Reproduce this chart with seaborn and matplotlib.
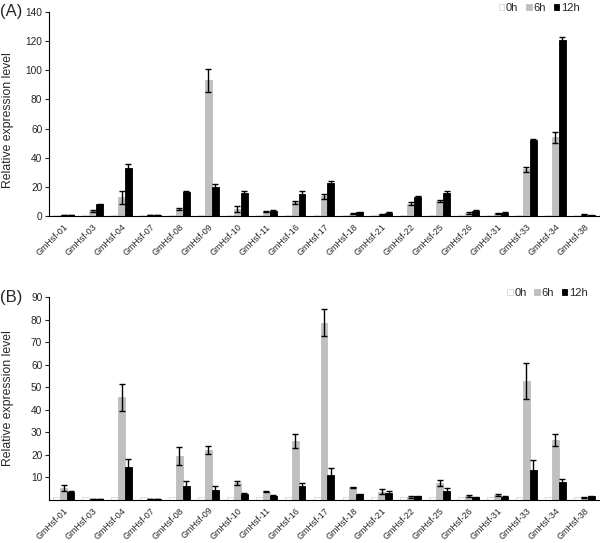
import pandas as pd
import numpy as np
import seaborn as sns
import matplotlib.pyplot as plt

# data
genes = ['GmHsf-01', 'GmHsf-03', 'GmHsf-04', 'GmHsf-07', 'GmHsf-08', 'GmHsf-09', 'GmHsf-10',
         'GmHsf-11', 'GmHsf-16', 'GmHsf-17', 'GmHsf-18', 'GmHsf-21', 'GmHsf-22', 'GmHsf-25',
         'GmHsf-26', 'GmHsf-31', 'GmHsf-33', 'GmHsf-34', 'GmHsf-38']
times = ['0h', '6h', '12h']

a_0h = [1] * 19
a_6h = [0.8, 3.5, 13, 0.8, 5, 93, 5, 3, 9.5, 13.5, 1.5, 1.2, 8.5, 10.5, 2, 1.8, 32, 54, 1.2]
a_12h = [0.9, 8, 33, 0.8, 16.5, 20, 16, 3.5, 15.5, 23, 2.5, 2, 13, 16, 3.5, 2.2, 52, 121, 0.5]
a_6h_err = [0.2, 0.5, 4.5, 0.2, 0.8, 8, 2, 0.5, 1, 2, 0.3, 0.3, 1, 0.5, 0.5, 0.3, 2, 4, 0.3]
a_12h_err = [0.2, 0.5, 2.5, 0.2, 0.5, 2, 1, 0.4, 1.5, 1, 0.3, 0.5, 0.5, 1, 0.4, 0.3, 1, 2, 0.2]

b_0h = [1] * 19
b_6h = [5.3, 0.3, 45.5, 0.2, 19.3, 22, 7.3, 3.5, 26, 78.5, 5.5, 3.5, 1.2, 7.5, 1.6, 2, 52.5, 26.5, 0.8]
b_12h = [3.4, 0.3, 14.4, 0.2, 6.2, 4.1, 2.3, 1.8, 6, 11, 2.3, 2.8, 1.5, 4, 1.1, 1.2, 13.2, 7.8, 1.4]
b_6h_err = [1.3, 0.1, 6, 0.1, 4, 1.8, 1, 0.3, 3, 6, 0.3, 1.2, 0.3, 1.3, 0.3, 0.4, 8, 2.5, 0.2]
b_12h_err = [0.5, 0.1, 3.5, 0.1, 2, 1.8, 0.8, 0.2, 1.3, 3.2, 0.2, 0.8, 0.3, 1, 0.2, 0.2, 4.3, 1.3, 0.2]

sns.set_style('white')
plt.rcParams['font.family'] = ['Liberation Sans', 'DejaVu Sans']

colors = ['white', '#bfbfbf', 'black']
edges = ['#d9d9d9', '#bfbfbf', 'black']


def panel(ax, v0, v6, v12, e6, e12, ymax, yticks, tag, leg_x, lab_y):
    df = pd.DataFrame({'gene': genes * 3,
                       'time': [t for t in times for _ in genes],
                       'value': v0 + v6 + v12})
    sns.barplot(data=df, x='gene', y='value', hue='time', order=genes, hue_order=times,
                palette=colors, errorbar=None, width=0.72, ax=ax, legend=False)
    errs = [[0] * 19, e6, e12]
    bar_conts = list(ax.containers)
    for i, cont in enumerate(bar_conts):
        xs, ys = [], []
        for p in cont.patches:
            p.set_edgecolor(edges[i])
            p.set_linewidth(0.6)
            xs.append(p.get_x() + p.get_width() / 2)
            ys.append(p.get_height())
        if i > 0:
            ax.errorbar(xs, ys, yerr=errs[i], fmt='none', ecolor='black',
                        elinewidth=1, capsize=2.5, capthick=1)
    ax.set_xlim(-0.5, len(genes) - 0.5)
    ax.set_ylim(0, ymax)
    ax.set_yticks(yticks)
    ax.set_xlabel('')
    ax.set_ylabel('Relative expression level', fontsize=8.8)
    ax.yaxis.set_label_coords(-0.064, lab_y)
    ax.tick_params(axis='y', labelsize=7.3, left=True, length=3, width=0.8, pad=2)
    ax.tick_params(axis='x', labelsize=6.4, bottom=False, pad=1)
    plt.setp(ax.get_xticklabels(), rotation=45, ha='right', rotation_mode='anchor')
    sns.despine(ax=ax)
    for s in ['left', 'bottom']:
        ax.spines[s].set_color('black')
        ax.spines[s].set_linewidth(0.8)
    handles = [plt.Rectangle((0, 0), 1, 1, facecolor=c, edgecolor=e, linewidth=0.6)
               for c, e in zip(colors, edges)]
    ax.legend(handles, times, ncol=3, frameon=False, fontsize=8,
              loc='center right', bbox_to_anchor=(leg_x, 1.02),
              handlelength=0.5, handleheight=0.5, handletextpad=0.15,
              columnspacing=0.7, borderaxespad=0, borderpad=0)
    ax.text(-0.089, 1.0, tag, transform=ax.transAxes, fontsize=12, va='center', ha='left')


fig = plt.figure(figsize=(6, 5.43), dpi=100)
ax1 = fig.add_axes([0.082, 0.602, 0.916, 0.376])
ax2 = fig.add_axes([0.082, 0.08, 0.916, 0.373])

panel(ax1, a_0h, a_6h, a_12h, a_6h_err, a_12h_err, 140, range(0, 141, 20), '(A)', 0.965, 0.47)
panel(ax2, b_0h, b_6h, b_12h, b_6h_err, b_12h_err, 90, range(10, 91, 10), '(B)', 0.98, 0.5)

fig.savefig('out.png', dpi=100)
